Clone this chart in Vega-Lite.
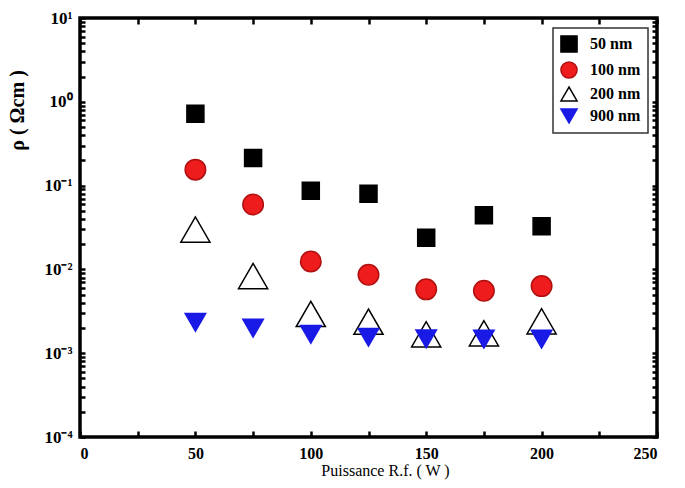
{
  "$schema": "https://vega.github.io/schema/vega-lite/v6.json",
  "width": 577,
  "height": 419,
  "autosize": "none",
  "padding": {"left": 80, "top": 18, "right": 28, "bottom": 51},
  "background": "white",
  "config": {
    "view": {"stroke": "black", "strokeWidth": 3.5},
    "font": "Liberation Serif",
    "axis": {
      "domain": false,
      "zindex": 1,
      "tickColor": "black",
      "tickWidth": 2.5,
      "grid": false,
      "labelFont": "Liberation Serif",
      "labelFontWeight": "bold",
      "labelFontSize": 17,
      "labelColor": "black",
      "titleFont": "Liberation Serif",
      "titleColor": "black"
    },
    "legend": {
      "orient": "none",
      "legendX": 473,
      "legendY": 10,
      "strokeColor": "#333333",
      "strokeWidth": 1.5,
      "padding": 7,
      "rowPadding": 2,
      "symbolSize": 260,
      "labelOffset": 12,
      "labelFont": "Liberation Serif",
      "labelFontWeight": "bold",
      "labelFontSize": 16,
      "labelColor": "black",
      "symbolStrokeWidth": 1.5,
      "fillColor": "white"
    }
  },
  "data": {
    "values": [
      {"P": 50, "t": "50 nm", "rho": 0.72},
      {"P": 75, "t": "50 nm", "rho": 0.214},
      {"P": 100, "t": "50 nm", "rho": 0.087},
      {"P": 125, "t": "50 nm", "rho": 0.08},
      {"P": 150, "t": "50 nm", "rho": 0.0238},
      {"P": 175, "t": "50 nm", "rho": 0.0443},
      {"P": 200, "t": "50 nm", "rho": 0.0328},
      {"P": 50, "t": "100 nm", "rho": 0.155},
      {"P": 75, "t": "100 nm", "rho": 0.0594},
      {"P": 100, "t": "100 nm", "rho": 0.01245},
      {"P": 125, "t": "100 nm", "rho": 0.00865},
      {"P": 150, "t": "100 nm", "rho": 0.00578},
      {"P": 175, "t": "100 nm", "rho": 0.00557},
      {"P": 200, "t": "100 nm", "rho": 0.00632},
      {"P": 50, "t": "200 nm", "rho": 0.0299},
      {"P": 75, "t": "200 nm", "rho": 0.00832},
      {"P": 100, "t": "200 nm", "rho": 0.00294},
      {"P": 125, "t": "200 nm", "rho": 0.00238},
      {"P": 150, "t": "200 nm", "rho": 0.00168},
      {"P": 175, "t": "200 nm", "rho": 0.00173},
      {"P": 200, "t": "200 nm", "rho": 0.0024},
      {"P": 50, "t": "900 nm", "rho": 0.00234},
      {"P": 75, "t": "900 nm", "rho": 0.00199},
      {"P": 100, "t": "900 nm", "rho": 0.00168},
      {"P": 125, "t": "900 nm", "rho": 0.00155},
      {"P": 150, "t": "900 nm", "rho": 0.00148},
      {"P": 175, "t": "900 nm", "rho": 0.00147},
      {"P": 200, "t": "900 nm", "rho": 0.00147}
    ]
  },
  "layer": [
    {
      "mark": {"type": "point", "filled": true, "strokeWidth": 1.5, "opacity": 1},
      "encoding": {
        "x": {
          "field": "P", "type": "quantitative",
          "scale": {"domain": [0, 250], "nice": false, "zero": false},
          "axis": {
            "orient": "bottom",
            "offset": -6,
            "title": "Puissance R.f. ( W )",
            "titleFontSize": 16,
            "titleFontWeight": "normal",
            "titlePadding": 1,
            "titleX": 305,
            "values": [0, 25, 50, 75, 100, 125, 150, 175, 200, 225, 250],
            "tickSize": 6,
            "labelPadding": 8,
            "labelFontSize": 16,
            "labelExpr": "datum.value % 50 == 0 ? datum.label : ''"
          }
        },
        "y": {
          "field": "rho", "type": "quantitative",
          "scale": {"type": "log", "domain": [0.0001, 10], "nice": false},
          "axis": {
            "orient": "left",
            "offset": -5,
            "title": "ρ ( Ωcm )",
            "titleFontSize": 20,
            "titleFontWeight": "bold",
            "titleX": -58,
            "titleY": 92,
            "titleAlign": "center",
            "values": [0.0001,0.0002,0.0003,0.0004,0.0005,0.0006,0.0007,0.0008,0.0009,0.001,0.002,0.003,0.004,0.005,0.006,0.007,0.008,0.009,0.01,0.02,0.03,0.04,0.05,0.06,0.07,0.08,0.09,0.1,0.2,0.3,0.4,0.5,0.6,0.7,0.8,0.9,1,2,3,4,5,6,7,8,9,10],
            "tickSize": 5,
            "labelPadding": 8,
            "labelExpr": "abs(log(datum.value)/LN10 - round(log(datum.value)/LN10)) < 0.001 ? ['10⁻⁴','10⁻³','10⁻²','10⁻¹','10⁰','10¹'][round(log(datum.value)/LN10)+4] : ''"
          }
        },
        "shape": {
          "field": "t", "type": "nominal",
          "scale": {"domain": ["50 nm", "100 nm", "200 nm", "900 nm"], "range": ["square", "circle", "triangle-up", "triangle-down"]},
          "legend": {"title": null}
        },
        "fill": {
          "field": "t", "type": "nominal",
          "scale": {"domain": ["50 nm", "100 nm", "200 nm", "900 nm"], "range": ["#000000", "#ee1c1c", "#ffffff", "#1a1ae6"]},
          "legend": {"title": null}
        },
        "stroke": {
          "field": "t", "type": "nominal",
          "scale": {"domain": ["50 nm", "100 nm", "200 nm", "900 nm"], "range": ["#000000", "#b01010", "#000000", "#1a1ae6"]},
          "legend": {"title": null}
        },
        "size": {
          "condition": [
            {"test": "datum.t == '200 nm'", "value": 850},
            {"test": "datum.t == '50 nm'", "value": 289}
          ],
          "value": 420
        }
      }
    },
    {
      "mark": {"type": "point", "opacity": 0},
      "encoding": {
        "x": {
          "field": "P", "type": "quantitative",
          "axis": {
            "orient": "top", "title": null, "labels": false, "offset": -6,
            "values": [0, 25, 50, 75, 100, 125, 150, 175, 200, 225, 250],
            "tickSize": 6
          }
        },
        "y": {
          "field": "rho", "type": "quantitative",
          "axis": {
            "orient": "right", "title": null, "labels": false, "offset": -5,
            "values": [0.0001,0.0002,0.0003,0.0004,0.0005,0.0006,0.0007,0.0008,0.0009,0.001,0.002,0.003,0.004,0.005,0.006,0.007,0.008,0.009,0.01,0.02,0.03,0.04,0.05,0.06,0.07,0.08,0.09,0.1,0.2,0.3,0.4,0.5,0.6,0.7,0.8,0.9,1,2,3,4,5,6,7,8,9,10],
            "tickSize": 5
          }
        }
      }
    }
  ],
  "resolve": {"axis": {"x": "independent", "y": "independent"}}
}
